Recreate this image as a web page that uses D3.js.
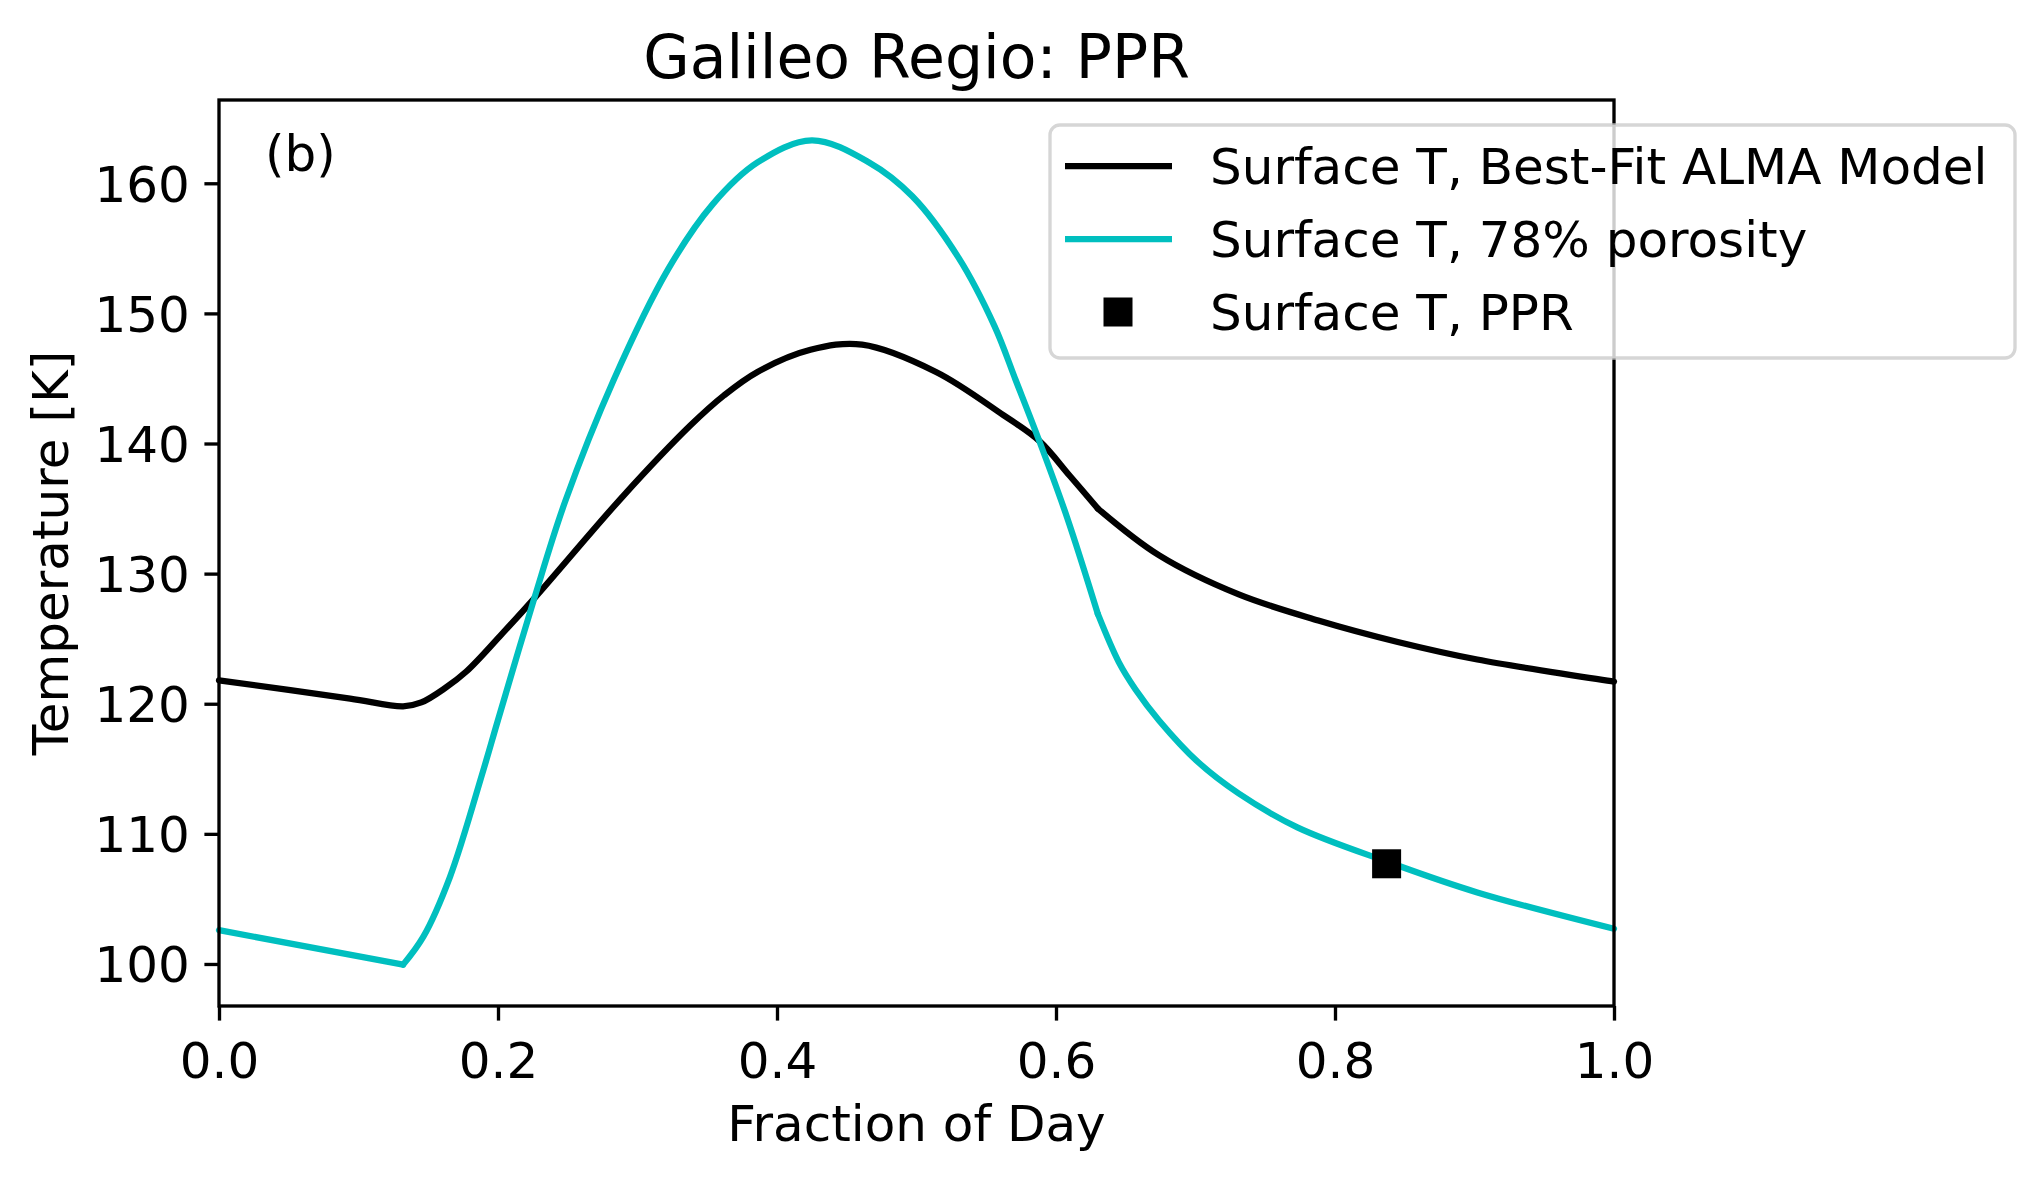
<!DOCTYPE html>
<html>
<head>
<meta charset="utf-8">
<script src="https://cdn.jsdelivr.net/npm/d3@7"></script>
<style>
  body { margin: 0; background: white; }
  text { font-family: "DejaVu Sans", sans-serif; fill: black; }
</style>
</head>
<body>
<div id="chart"></div>
<script>
// data
const bestFitX = [0.000, 0.094, 0.132, 0.145, 0.162, 0.1775, 0.2014, 0.226, 0.290, 0.338, 0.362, 0.386, 0.424, 0.461, 0.514, 0.562, 0.588, 0.610, 0.630, 0.674, 0.731, 0.788, 0.845, 0.902, 1.000];
const bestFitT = [121.8, 120.4, 119.8, 120.1, 121.2, 122.5, 125.2, 128.1, 136.0, 141.4, 143.7, 145.5, 147.2, 147.6, 145.5, 142.2, 140.2, 137.5, 135.0, 131.4, 128.4, 126.4, 124.75, 123.4, 121.7];
const bestFitKinks = [0.630];

const porousX = [0.000, 0.132, 0.1465, 0.1656, 0.1895, 0.200, 0.226, 0.248, 0.283, 0.322, 0.354, 0.386, 0.425, 0.466, 0.497, 0.530, 0.556, 0.571, 0.588, 0.608, 0.630, 0.645, 0.657, 0.674, 0.702, 0.731, 0.773, 0.839, 0.902, 1.000];
const porousT = [102.6, 99.95, 102.1, 106.7, 114.9, 118.75, 128.1, 135.5, 144.9, 153.4, 158.4, 161.6, 163.3, 161.6, 159.0, 154.3, 149.0, 144.9, 140.2, 134.3, 126.9, 123.2, 121.1, 118.7, 115.5, 113.1, 110.5, 107.8, 105.5, 102.7];
const porousKinks = [0.132, 0.630];

const pprX = [0.837];
const pprT = [107.7];

const xTicks = [0, 0.2, 0.4, 0.6, 0.8, 1.0];
const yTicks = [100, 110, 120, 130, 140, 150, 160];
const legendLabels = ["Surface T, Best-Fit ALMA Model", "Surface T, 78% porosity", "Surface T, PPR"];

const width = 2037;
const height = 1178;
const plot = {l: 219, r: 1614, t: 100, b: 1006};
const cyan = "#00bfbf";

const svg = d3.select("#chart")
    .append("svg")
    .attr("width", width)
    .attr("height", height)
    .attr("viewBox", [0, 0, width, height]);

const x = d3.scaleLinear().domain([0, 1]).range([plot.l, plot.r]);
const y = d3.scaleLinear().domain([96.77, 166.4]).range([plot.b, plot.t]);

const line = d3.line()
    .x(d => x(d[0]))
    .y(d => y(d[1]))
    .curve(d3.curveCatmullRom.alpha(0.5));

// cut a series at its kinks so each piece is smooth but corners stay sharp
function pieces(xs, ts, kinks) {
    const pts = d3.zip(xs, ts);
    const out = [];
    let cur = [];
    pts.forEach(p => {
        cur.push(p);
        if (kinks.includes(p[0])) {
            out.push(cur);
            cur = [p];
        }
    });
    if (cur.length > 1) out.push(cur);
    return out;
}

function drawSeries(xs, ts, kinks, color) {
    svg.append("g")
        .selectAll("path")
        .data(pieces(xs, ts, kinks))
        .enter()
        .append("path")
        .attr("d", line)
        .attr("fill", "none")
        .attr("stroke", color)
        .attr("stroke-width", 6.25)
        .attr("stroke-linecap", "round")
        .attr("stroke-linejoin", "round");
}

drawSeries(bestFitX, bestFitT, bestFitKinks, "black");
drawSeries(porousX, porousT, porousKinks, cyan);

const ms = 29;
svg.selectAll(".ppr")
    .data(d3.zip(pprX, pprT))
    .enter()
    .append("rect")
    .attr("class", "ppr")
    .attr("x", d => x(d[0]) - ms / 2)
    .attr("y", d => y(d[1]) - ms / 2)
    .attr("width", ms)
    .attr("height", ms)
    .attr("fill", "black");

// axes
const xAxis = d3.axisBottom(x)
    .tickValues(xTicks)
    .tickFormat(d3.format(".1f"))
    .tickSize(14.6)
    .tickPadding(14.6)
    .tickSizeOuter(0);
const yAxis = d3.axisLeft(y)
    .tickValues(yTicks)
    .tickSize(14.6)
    .tickPadding(14.6)
    .tickSizeOuter(0);

const gx = svg.append("g")
    .attr("transform", "translate(0," + plot.b + ")")
    .call(xAxis);
const gy = svg.append("g")
    .attr("transform", "translate(" + plot.l + ",0)")
    .call(yAxis);

[gx, gy].forEach(g => {
    g.select(".domain").remove();
    g.selectAll(".tick line").attr("stroke", "black").attr("stroke-width", 3.33);
    g.selectAll(".tick text")
        .attr("font-family", "DejaVu Sans")
        .attr("font-size", 50)
        .attr("fill", "black");
});
gx.selectAll(".tick text").attr("dy", null).attr("y", 72);
gy.selectAll(".tick text").attr("dy", "0.36em");

// frame
svg.append("rect")
    .attr("x", plot.l)
    .attr("y", plot.t)
    .attr("width", plot.r - plot.l)
    .attr("height", plot.b - plot.t)
    .attr("fill", "none")
    .attr("stroke", "black")
    .attr("stroke-width", 3.33);

// titles
svg.append("text")
    .attr("x", (plot.l + plot.r) / 2)
    .attr("y", 78)
    .attr("text-anchor", "middle")
    .attr("font-size", 60)
    .text("Galileo Regio: PPR");

svg.append("text")
    .attr("x", (plot.l + plot.r) / 2)
    .attr("y", 1141)
    .attr("text-anchor", "middle")
    .attr("font-size", 50)
    .text("Fraction of Day");

svg.append("text")
    .attr("transform", "translate(68," + (plot.t + plot.b) / 2 + ") rotate(-90)")
    .attr("text-anchor", "middle")
    .attr("font-size", 50)
    .text("Temperature [K]");

svg.append("text")
    .attr("x", 265)
    .attr("y", 171)
    .attr("font-size", 50)
    .text("(b)");

// legend
const leg = svg.append("g");
leg.append("rect")
    .attr("x", 1050)
    .attr("y", 125)
    .attr("width", 965)
    .attr("height", 233)
    .attr("rx", 10)
    .attr("fill", "white")
    .attr("fill-opacity", 0.8)
    .attr("stroke", "#cccccc")
    .attr("stroke-opacity", 0.8)
    .attr("stroke-width", 3.33);

const rowY = [166, 239, 312];
leg.append("line")
    .attr("x1", 1065).attr("x2", 1172)
    .attr("y1", rowY[0]).attr("y2", rowY[0])
    .attr("stroke", "black").attr("stroke-width", 6.25);
leg.append("line")
    .attr("x1", 1065).attr("x2", 1172)
    .attr("y1", rowY[1]).attr("y2", rowY[1])
    .attr("stroke", cyan).attr("stroke-width", 6.25);
leg.append("rect")
    .attr("x", 1118 - ms / 2)
    .attr("y", rowY[2] - ms / 2)
    .attr("width", ms)
    .attr("height", ms)
    .attr("fill", "black");

leg.selectAll(".legtext")
    .data(legendLabels)
    .enter()
    .append("text")
    .attr("class", "legtext")
    .attr("x", 1210)
    .attr("y", (d, i) => rowY[i] + 18)
    .attr("font-size", 50)
    .text(d => d);
</script>
</body>
</html>
